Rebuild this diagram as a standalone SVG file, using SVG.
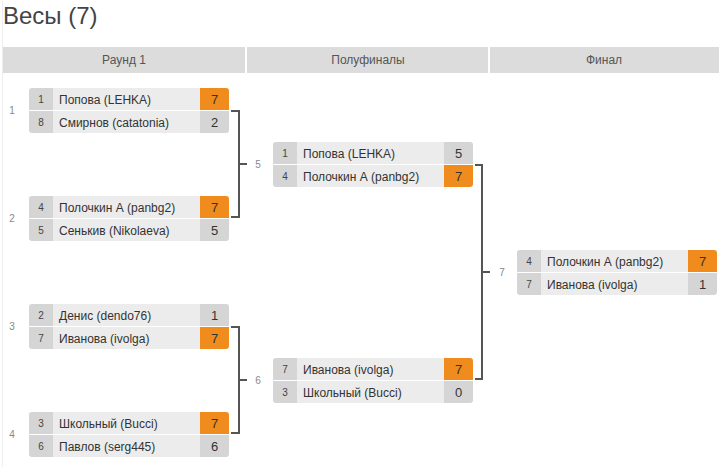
<svg xmlns="http://www.w3.org/2000/svg" width="724" height="467" viewBox="0 0 724 467">
<defs>
<clipPath id="rc" clipPathUnits="objectBoundingBox"><rect x="0" y="0" width="1" height="1" rx="0.016" ry="0.07"/></clipPath>
</defs>
<style>
text{font-family:"Liberation Sans",Arial,sans-serif}
.title{font-size:24px;fill:#444}
.hd{fill:#dcdcdc}
.hdt{font-size:12px;fill:#555;text-anchor:middle}
.row{fill:#ececec}
.cell{fill:#d5d5d5}
.win{fill:#f08c1e}
.seed{font-size:10px;fill:#444;text-anchor:middle}
.nm{font-size:12px;fill:#333}
.sc{font-size:13px;fill:#333;text-anchor:middle}
.lbl{font-size:10px;fill:#888;text-anchor:middle}
.con{fill:none;stroke:#555;stroke-width:2}
</style>
<rect width="724" height="467" fill="#fff"/>
<line x1="2.5" y1="0" x2="2.5" y2="467" stroke="#eee" stroke-width="1"/>
<text class="title" x="3" y="24">Весы (7)</text>
<g id="header">
<rect class="hd" x="3" y="47" width="242" height="26"/>
<rect class="hd" x="247" y="47" width="241" height="26"/>
<rect class="hd" x="490" y="47" width="229" height="26"/>
<text class="hdt" x="124" y="64">Раунд 1</text>
<text class="hdt" x="368" y="64">Полуфиналы</text>
<text class="hdt" x="604" y="64">Финал</text>
</g>
<g id="connectors">
<path class="con" d="M231 111 H239 V217 H231 M239 164 H247"/>
<path class="con" d="M231 327 H239 V433 H231 M239 380 H247"/>
<path class="con" d="M475 165 H482 V379 H475 M482 272 H490"/>
</g>
<g id="labels">
<text class="lbl" x="12" y="114">1</text>
<text class="lbl" x="12" y="222">2</text>
<text class="lbl" x="12" y="330">3</text>
<text class="lbl" x="12" y="438">4</text>
<text class="lbl" x="258" y="168">5</text>
<text class="lbl" x="258" y="384">6</text>
<text class="lbl" x="502" y="276">7</text>
</g>
<g id="m1" transform="translate(29,88)">
<g clip-path="url(#rc)"><rect class="row" width="200" height="22"/><rect class="row" y="23" width="200" height="22"/><rect class="cell" width="24" height="22"/><rect class="cell" y="23" width="24" height="22"/><rect class="win" x="171" width="29" height="22"/><rect class="cell" x="171" y="23" width="29" height="22"/></g>
<text class="seed" x="12" y="15">1</text><text class="nm" x="30" y="15.5">Попова (LEHKA)</text><text class="sc" x="185.5" y="16">7</text>
<text class="seed" x="12" y="38">8</text><text class="nm" x="30" y="38.5">Смирнов (catatonia)</text><text class="sc" x="185.5" y="39">2</text>
</g>
<g id="m2" transform="translate(29,196)">
<g clip-path="url(#rc)"><rect class="row" width="200" height="22"/><rect class="row" y="23" width="200" height="22"/><rect class="cell" width="24" height="22"/><rect class="cell" y="23" width="24" height="22"/><rect class="win" x="171" width="29" height="22"/><rect class="cell" x="171" y="23" width="29" height="22"/></g>
<text class="seed" x="12" y="15">4</text><text class="nm" x="30" y="15.5">Полочкин А (panbg2)</text><text class="sc" x="185.5" y="16">7</text>
<text class="seed" x="12" y="38">5</text><text class="nm" x="30" y="38.5">Сенькив (Nikolaeva)</text><text class="sc" x="185.5" y="39">5</text>
</g>
<g id="m3" transform="translate(29,304)">
<g clip-path="url(#rc)"><rect class="row" width="200" height="22"/><rect class="row" y="23" width="200" height="22"/><rect class="cell" width="24" height="22"/><rect class="cell" y="23" width="24" height="22"/><rect class="cell" x="171" width="29" height="22"/><rect class="win" x="171" y="23" width="29" height="22"/></g>
<text class="seed" x="12" y="15">2</text><text class="nm" x="30" y="15.5">Денис (dendo76)</text><text class="sc" x="185.5" y="16">1</text>
<text class="seed" x="12" y="38">7</text><text class="nm" x="30" y="38.5">Иванова (ivolga)</text><text class="sc" x="185.5" y="39">7</text>
</g>
<g id="m4" transform="translate(29,412)">
<g clip-path="url(#rc)"><rect class="row" width="200" height="22"/><rect class="row" y="23" width="200" height="22"/><rect class="cell" width="24" height="22"/><rect class="cell" y="23" width="24" height="22"/><rect class="win" x="171" width="29" height="22"/><rect class="cell" x="171" y="23" width="29" height="22"/></g>
<text class="seed" x="12" y="15">3</text><text class="nm" x="30" y="15.5">Школьный (Bucci)</text><text class="sc" x="185.5" y="16">7</text>
<text class="seed" x="12" y="38">6</text><text class="nm" x="30" y="38.5">Павлов (serg445)</text><text class="sc" x="185.5" y="39">6</text>
</g>
<g id="s1" transform="translate(273,142)">
<g clip-path="url(#rc)"><rect class="row" width="200" height="22"/><rect class="row" y="23" width="200" height="22"/><rect class="cell" width="24" height="22"/><rect class="cell" y="23" width="24" height="22"/><rect class="cell" x="171" width="29" height="22"/><rect class="win" x="171" y="23" width="29" height="22"/></g>
<text class="seed" x="12" y="15">1</text><text class="nm" x="30" y="15.5">Попова (LEHKA)</text><text class="sc" x="185.5" y="16">5</text>
<text class="seed" x="12" y="38">4</text><text class="nm" x="30" y="38.5">Полочкин А (panbg2)</text><text class="sc" x="185.5" y="39">7</text>
</g>
<g id="s2" transform="translate(273,358)">
<g clip-path="url(#rc)"><rect class="row" width="200" height="22"/><rect class="row" y="23" width="200" height="22"/><rect class="cell" width="24" height="22"/><rect class="cell" y="23" width="24" height="22"/><rect class="win" x="171" width="29" height="22"/><rect class="cell" x="171" y="23" width="29" height="22"/></g>
<text class="seed" x="12" y="15">7</text><text class="nm" x="30" y="15.5">Иванова (ivolga)</text><text class="sc" x="185.5" y="16">7</text>
<text class="seed" x="12" y="38">3</text><text class="nm" x="30" y="38.5">Школьный (Bucci)</text><text class="sc" x="185.5" y="39">0</text>
</g>
<g id="f1" transform="translate(517,250)">
<g clip-path="url(#rc)"><rect class="row" width="200" height="22"/><rect class="row" y="23" width="200" height="22"/><rect class="cell" width="24" height="22"/><rect class="cell" y="23" width="24" height="22"/><rect class="win" x="171" width="29" height="22"/><rect class="cell" x="171" y="23" width="29" height="22"/></g>
<text class="seed" x="12" y="15">4</text><text class="nm" x="30" y="15.5">Полочкин А (panbg2)</text><text class="sc" x="185.5" y="16">7</text>
<text class="seed" x="12" y="38">7</text><text class="nm" x="30" y="38.5">Иванова (ivolga)</text><text class="sc" x="185.5" y="39">1</text>
</g>
</svg>
